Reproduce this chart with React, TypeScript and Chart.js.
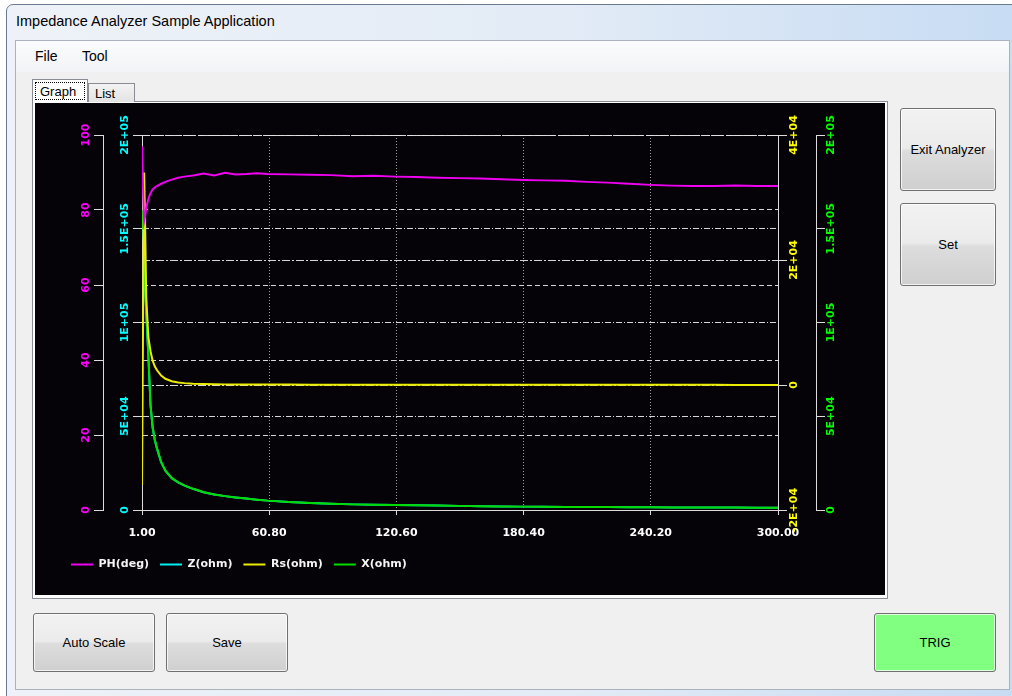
import React, { useEffect, useRef } from 'react';
import { Chart, registerables } from 'chart.js';

Chart.register(...registerables);

// ---------- data ----------
const TIME = [1, 1.5, 2, 2.5, 3, 4, 5, 6, 7, 8, 10, 12, 15, 18, 21, 25, 30, 35, 40, 45, 50, 55, 60, 70, 80, 90, 100, 110, 120, 130, 140, 150, 160, 170, 180, 190, 200, 210, 220, 230, 240, 250, 260, 270, 280, 290, 300];

const PH_DEG = [97, 86, 77, 78.5, 80.5, 83, 84.5, 85.5, 86, 86.4, 87, 87.5, 88.1, 88.6, 88.9, 89.2, 89.7, 89.2, 89.9, 89.5, 89.6, 89.8, 89.6, 89.5, 89.4, 89.3, 89.0, 89.1, 88.9, 88.8, 88.6, 88.5, 88.4, 88.2, 88.0, 87.9, 87.8, 87.5, 87.3, 87.0, 86.7, 86.5, 86.4, 86.4, 86.5, 86.4, 86.4];

const Z_OHM = [150000, 160000, 140000, 118000, 105000, 82000, 56000, 44000, 37500, 33000, 25500, 21000, 17000, 14700, 13000, 11300, 9500, 8300, 7400, 6700, 6100, 5500, 5000, 4300, 3700, 3300, 3000, 2800, 2650, 2500, 2350, 2200, 2050, 1900, 1800, 1700, 1650, 1600, 1550, 1500, 1420, 1380, 1340, 1300, 1270, 1250, 1230];

const RS_OHM = [-16000, 10000, 34000, 25000, 14000, 7600, 5400, 3900, 3000, 2400, 1500, 1000, 600, 400, 300, 200, 150, 120, 100, 90, 80, 80, 70, 70, 60, 60, 60, 50, 50, 50, 50, 40, 40, 40, 40, 40, 30, 30, 30, 30, 30, 30, 30, 30, 20, 20, 20];

const X_OHM = [150000, 160000, 140000, 118000, 105000, 82000, 56000, 44000, 37500, 33000, 25500, 21000, 17000, 14700, 13000, 11300, 9500, 8300, 7400, 6700, 6100, 5500, 5000, 4300, 3700, 3300, 3000, 2800, 2650, 2500, 2350, 2200, 2050, 1900, 1800, 1700, 1650, 1600, 1550, 1500, 1420, 1380, 1340, 1300, 1270, 1250, 1230];

const SERIES_NAMES = ['PH(deg)', 'Z(ohm)', 'Rs(ohm)', 'X(ohm)'];

const TIME_TICKS = [1, 60.8, 120.6, 180.4, 240.2, 300];
const TIME_LABELS = ['1.00', '60.80', '120.60', '180.40', '240.20', '300.00'];
const PH_TICKS = [0, 20, 40, 60, 80, 100];
const PH_LABELS = ['0', '20', '40', '60', '80', '100'];
const Z_TICKS = [0, 50000, 100000, 150000, 200000];
const Z_LABELS = ['0', '5E+04', '1E+05', '1.5E+05', '2E+05'];
const RS_TICKS = [-20000, 0, 20000, 40000];
const RS_LABELS = ['-2E+04', '0', '2E+04', '4E+04'];
const X_TICKS = [0, 50000, 100000, 150000, 200000];
const X_LABELS = ['0', '5E+04', '1E+05', '1.5E+05', '2E+05'];

// ---------- styles ----------
const MAGENTA = '#ff00ff';
const CYAN = '#00ffff';
const YELLOW = '#ffff00';
const GREEN = '#00ff00';
const GRID = 'rgba(225,225,225,0.95)';
const AXIS = '#dcdcdc';
const CHART_FONT = '"DejaVu Sans", sans-serif';
const UI_FONT = '"Liberation Sans", Arial, sans-serif';

const Y_LABEL_SPECS = [
  { id: 'yPH', labels: PH_LABELS, color: MAGENTA, off: 17 },
  { id: 'yZ', labels: Z_LABELS, color: CYAN, off: 16.5 },
  { id: 'yRs', labels: RS_LABELS, color: YELLOW, off: 16 },
  { id: 'yX', labels: X_LABELS, color: GREEN, off: 15.5 },
];

const rotatedYLabels = {
  id: 'rotatedYLabels',
  afterDraw(chart: any) {
    const ctx = chart.ctx;
    ctx.save();
    ctx.font = `bold 11px ${CHART_FONT}`;
    ctx.textAlign = 'center';
    ctx.textBaseline = 'middle';
    for (const spec of Y_LABEL_SPECS) {
      const s = chart.scales[spec.id];
      if (!s) continue;
      const x = s.position === 'left' ? s.right - spec.off : s.left + spec.off;
      ctx.fillStyle = spec.color;
      s.ticks.forEach((t: any, i: number) => {
        const y = s.getPixelForValue(t.value);
        ctx.save();
        ctx.translate(x, y);
        ctx.rotate(-Math.PI / 2);
        ctx.fillText(spec.labels[i], 0, 0);
        ctx.restore();
      });
    }
    ctx.restore();
  },
};

function yScale(position: string, min: number, max: number, ticks: number[], weight: number, width: number, dash: number[] | null) {
  return {
    type: 'linear',
    position,
    min,
    max,
    weight,
    afterBuildTicks: (s: any) => {
      s.ticks = ticks.map((v) => ({ value: v }));
    },
    afterFit: (s: any) => {
      s.width = width;
    },
    ticks: { display: false },
    grid: {
      color: GRID,
      lineWidth: 1,
      drawOnChartArea: dash !== null,
      drawTicks: true,
      tickLength: 9,
      tickColor: AXIS,
      tickWidth: 1,
      tickBorderDash: [],
    },
    border: { display: true, color: AXIS, width: 1, dash: dash || [] },
  };
}

const toPoints = (vals: number[]) => TIME.map((t, i) => ({ x: t, y: vals[i] }));

function ImpedanceChart() {
  const ref = useRef<HTMLCanvasElement>(null);
  useEffect(() => {
    const canvas = ref.current;
    if (!canvas) return;
    const chart = new Chart(canvas, {
      type: 'line',
      data: {
        datasets: [
          { label: SERIES_NAMES[0], data: toPoints(PH_DEG), yAxisID: 'yPH', borderColor: '#f000f0', backgroundColor: '#f000f0', borderWidth: 2, pointRadius: 0, tension: 0, order: 0 },
          { label: SERIES_NAMES[1], data: toPoints(Z_OHM), yAxisID: 'yZ', borderColor: '#00f0f0', backgroundColor: '#00f0f0', borderWidth: 2, pointRadius: 0, tension: 0, order: 3 },
          { label: SERIES_NAMES[2], data: toPoints(RS_OHM), yAxisID: 'yRs', borderColor: '#ecec00', backgroundColor: '#ecec00', borderWidth: 2, pointRadius: 0, tension: 0, order: 1 },
          { label: SERIES_NAMES[3], data: toPoints(X_OHM), yAxisID: 'yX', borderColor: '#00dc00', backgroundColor: '#00dc00', borderWidth: 2, pointRadius: 0, tension: 0, order: 2 },
        ],
      },
      options: {
        animation: false,
        responsive: false,
        events: [],
        layout: { padding: { left: 25, right: 10, top: 32, bottom: 15 } },
        scales: {
          x: {
            type: 'linear',
            position: 'bottom',
            min: 1,
            max: 300,
            afterBuildTicks: (s: any) => {
              s.ticks = TIME_TICKS.map((v) => ({ value: v }));
            },
            afterFit: (s: any) => {
              s.height = 38;
            },
            ticks: {
              autoSkip: false,
              maxRotation: 0,
              minRotation: 0,
              padding: 12,
              color: '#ffffff',
              font: { family: CHART_FONT, size: 11, weight: 'bold' },
              callback: (_v: any, i: number) => TIME_LABELS[i],
            },
            grid: { color: '#a0a0a0', lineWidth: 1, drawTicks: true, tickLength: 5, tickColor: AXIS, tickBorderDash: [] },
            border: { display: true, color: AXIS, width: 1, dash: [1, 2] },
          },
          yPH: yScale('left', 0, 100, PH_TICKS, 2, 43, [5, 3]),
          yZ: yScale('left', 0, 200000, Z_TICKS, 1, 39, [6, 2, 1, 2]),
          yRs: yScale('right', -20000, 40000, RS_TICKS, 1, 38, [8, 2, 2, 2]),
          yX: yScale('right', 0, 200000, X_TICKS, 2, 59, null),
        },
        plugins: {
          legend: {
            display: true,
            position: 'bottom',
            align: 'start',
            labels: {
              color: '#f4f4f4',
              font: { family: CHART_FONT, size: 11, weight: 'bold' },
              usePointStyle: true,
              pointStyle: 'line',
              pointStyleWidth: 22,
              padding: 11,
              sort: (a: any, b: any) => a.datasetIndex - b.datasetIndex,
            },
          },
          tooltip: { enabled: false },
        },
      },
      plugins: [rotatedYLabels],
    } as any);
    return () => chart.destroy();
  }, []);
  return <canvas ref={ref} width={850} height={492} style={{ display: 'block', width: 850, height: 492 }} />;
}

const btn = (left: number, top: number, w: number, h: number, bg?: string): React.CSSProperties => ({
  position: 'absolute',
  left,
  top,
  width: w,
  height: h,
  boxSizing: 'border-box',
  border: '1px solid #707070',
  borderRadius: 3,
  background: bg || 'linear-gradient(#f2f2f2 0%, #ebebeb 48%, #dddddd 52%, #cfcfcf 100%)',
  boxShadow: 'inset 0 0 0 1px rgba(255,255,255,0.75)',
  display: 'flex',
  alignItems: 'center',
  justifyContent: 'center',
  fontSize: 13,
  color: '#000',
  fontFamily: UI_FONT,
});

export default function App() {
  return (
    <div style={{ position: 'fixed', left: 0, top: 0, width: 1012, height: 696, overflow: 'hidden', background: '#ffffff', fontFamily: UI_FONT }}>
      {/* window frame */}
      <div style={{ position: 'absolute', left: 6, top: 4, width: 1030, height: 700, boxSizing: 'border-box', border: '1px solid #6a7a90', borderRadius: '7px 7px 0 0', background: 'linear-gradient(to right, #eef2f8 0%, #e2ebf6 55%, #c6dbf3 100%)' }} />
      <div style={{ position: 'absolute', left: 16, top: 13, fontSize: 14.5, color: '#000', whiteSpace: 'nowrap' }}>Impedance Analyzer Sample Application</div>
      {/* client area */}
      <div style={{ position: 'absolute', left: 15, top: 40, width: 995, height: 650, boxSizing: 'border-box', border: '1px solid #a9b2bd', background: '#f0f0f0' }} />
      {/* menu strip */}
      <div style={{ position: 'absolute', left: 16, top: 41, width: 993, height: 31, background: 'linear-gradient(#fbfcfd, #f1f3f6)' }} />
      <div style={{ position: 'absolute', left: 35, top: 48, fontSize: 14, color: '#000' }}>File</div>
      <div style={{ position: 'absolute', left: 82, top: 48, fontSize: 14, color: '#000' }}>Tool</div>
      {/* tab page */}
      <div style={{ position: 'absolute', left: 32, top: 101, width: 856, height: 498, boxSizing: 'border-box', border: '1px solid #898c95', background: '#ffffff' }} />
      {/* tabs */}
      <div style={{ position: 'absolute', left: 88, top: 83, width: 47, height: 19, boxSizing: 'border-box', border: '1px solid #898c95', borderBottom: 'none', background: 'linear-gradient(#f3f3f3, #e3e3e3)', fontSize: 13, paddingLeft: 6, paddingTop: 2 }}>List</div>
      <div style={{ position: 'absolute', left: 32, top: 79, width: 56, height: 23, boxSizing: 'border-box', border: '1px solid #898c95', borderBottom: 'none', background: '#ffffff' }} />
      <div style={{ position: 'absolute', left: 35, top: 82, width: 50, height: 18, boxSizing: 'border-box', border: '1px dotted #000', fontSize: 13, paddingLeft: 4, paddingTop: 1 }}>Graph</div>
      {/* chart panel */}
      <div style={{ position: 'absolute', left: 35, top: 103, width: 850, height: 492, background: '#050308' }}>
        <ImpedanceChart />
      </div>
      {/* buttons */}
      <div style={btn(900, 108, 96, 83)}>Exit Analyzer</div>
      <div style={btn(900, 203, 96, 83)}>Set</div>
      <div style={btn(33, 613, 122, 59)}>Auto Scale</div>
      <div style={btn(166, 613, 122, 59)}>Save</div>
      <div style={btn(874, 613, 122, 59, '#80ff80')}>TRIG</div>
    </div>
  );
}
